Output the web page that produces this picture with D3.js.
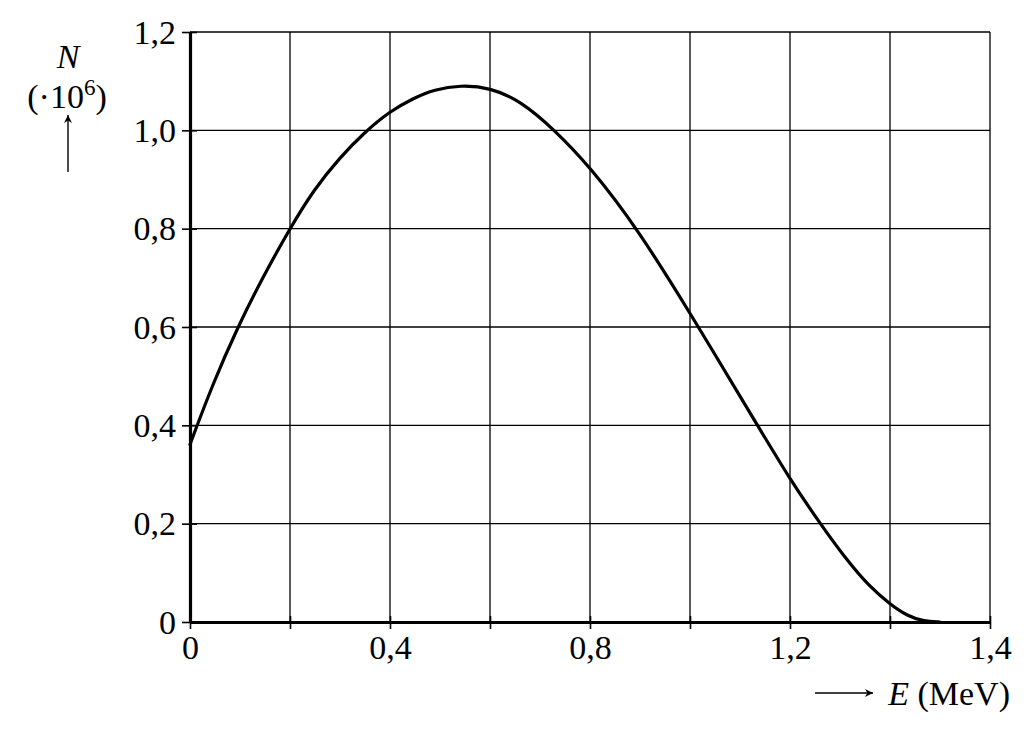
<!DOCTYPE html>
<html>
<head>
<meta charset="utf-8">
<script src="https://cdn.jsdelivr.net/npm/d3@7"></script>
<style>
  html, body { margin: 0; padding: 0; background: #fff; }
  svg text { font-family: "Liberation Serif", "Times New Roman", serif; fill: #000; }
</style>
</head>
<body>
<svg id="chart" width="1036" height="737"></svg>
<script>
// ---- data ----
const energy = [0, 0.045, 0.095, 0.145, 0.2, 0.248, 0.3, 0.348, 0.4, 0.448, 0.488, 0.541, 0.6, 0.661, 0.728, 0.8, 0.895, 1.0, 1.135, 1.2, 1.261, 1.315, 1.358, 1.4, 1.435, 1.468, 1.5];
const counts = [0.361, 0.483, 0.599, 0.700, 0.801, 0.880, 0.945, 0.995, 1.039, 1.066, 1.083, 1.092, 1.087, 1.060, 1.002, 0.926, 0.8, 0.629, 0.4, 0.290, 0.199, 0.124, 0.073, 0.036, 0.012, 0.001, 0.0];
const xGridValues = [0, 0.2, 0.4, 0.6, 0.8, 1.0, 1.2, 1.4, 1.6];
const xTickValues = [0, 0.4, 0.8, 1.2, 1.6];
const xTickLabels = ["0", "0,4", "0,8", "1,2", "1,4"];
const yGridValues = [0, 0.2, 0.4, 0.6, 0.8, 1.0, 1.2];
const yTickLabels = ["0", "0,2", "0,4", "0,6", "0,8", "1,0", "1,2"];

// ---- chart ----
const FS = 34;
const svg = d3.select("#chart");
const x = d3.scaleLinear().domain([0, 1.6]).range([190, 990]);
const y = d3.scaleLinear().domain([0, 1.2]).range([622, 32]);

// grid
const grid = svg.append("g").attr("stroke", "#000").attr("stroke-width", 1.3);
grid.selectAll("line.v").data(xGridValues).join("line").attr("class", "v")
  .attr("x1", d => x(d)).attr("x2", d => x(d))
  .attr("y1", y(0)).attr("y2", y(1.2));
grid.selectAll("line.h").data(yGridValues).join("line").attr("class", "h")
  .attr("x1", x(0)).attr("x2", x(1.6))
  .attr("y1", d => y(d)).attr("y2", d => y(d));

// x axis
const xAxis = svg.append("g").attr("transform", `translate(0,${y(0)})`)
  .call(d3.axisBottom(x).tickValues(xGridValues).tickSize(7).tickSizeOuter(0)
    .tickFormat(d => {
      const i = xTickValues.findIndex(v => Math.abs(v - d) < 1e-9);
      return i >= 0 ? xTickLabels[i] : "";
    }));
xAxis.select(".domain").attr("stroke", "#000").attr("stroke-width", 3.2);
xAxis.selectAll(".tick line").attr("stroke", "#000").attr("stroke-width", 1.6).attr("y1", -6);
xAxis.selectAll(".tick text").attr("font-size", FS).attr("font-family", "Liberation Serif")
  .attr("y", 37).attr("dy", 0);

// y axis
const yAxis = svg.append("g").attr("transform", `translate(${x(0)},0)`)
  .call(d3.axisLeft(y).tickValues(yGridValues).tickSize(8).tickSizeOuter(0)
    .tickFormat((d, i) => yTickLabels[i]));
yAxis.select(".domain").attr("stroke", "#000").attr("stroke-width", 3.2);
yAxis.selectAll(".tick line").attr("stroke", "#000").attr("stroke-width", 1.6).attr("x1", 7);
yAxis.selectAll(".tick text").attr("font-size", FS).attr("font-family", "Liberation Serif")
  .attr("x", -14).attr("dy", "0.33em");

// curve
const line = d3.line().x((d, i) => x(energy[i])).y(d => y(d)).curve(d3.curveBasis);
svg.append("path").datum(counts)
  .attr("d", line)
  .attr("fill", "none").attr("stroke", "#000").attr("stroke-width", 3.2)
  .attr("stroke-linejoin", "round").attr("stroke-linecap", "round");

// arrow marker
const defs = svg.append("defs");
defs.append("marker").attr("id", "arr").attr("viewBox", "0 0 10 10")
  .attr("refX", 10).attr("refY", 5).attr("markerWidth", 18).attr("markerHeight", 8)
  .attr("markerUnits", "userSpaceOnUse").attr("orient", "auto")
  .append("path").attr("d", "M0,0 L10,5 L0,10 L3,5 Z").attr("fill", "#000");

// y title
svg.append("text").attr("x", 68).attr("y", 68).attr("text-anchor", "middle")
  .attr("font-size", FS).attr("font-style", "italic").text("N");
const yt = svg.append("text").attr("x", 67).attr("y", 108).attr("text-anchor", "middle").attr("font-size", FS);
yt.append("tspan").text("(\u00B710");
yt.append("tspan").attr("font-size", 23).attr("dy", -13).text("6");
yt.append("tspan").attr("dy", 13).text(")");
svg.append("line").attr("x1", 68).attr("x2", 68).attr("y1", 172).attr("y2", 115)
  .attr("stroke", "#000").attr("stroke-width", 1.4).attr("marker-end", "url(#arr)");

// x title
svg.append("line").attr("x1", 815).attr("x2", 873).attr("y1", 693).attr("y2", 693)
  .attr("stroke", "#000").attr("stroke-width", 1.4).attr("marker-end", "url(#arr)");
const xt = svg.append("text").attr("x", 1010).attr("y", 705).attr("text-anchor", "end").attr("font-size", FS);
xt.append("tspan").attr("font-style", "italic").text("E");
xt.append("tspan").text(" (MeV)");
</script>
</body>
</html>
